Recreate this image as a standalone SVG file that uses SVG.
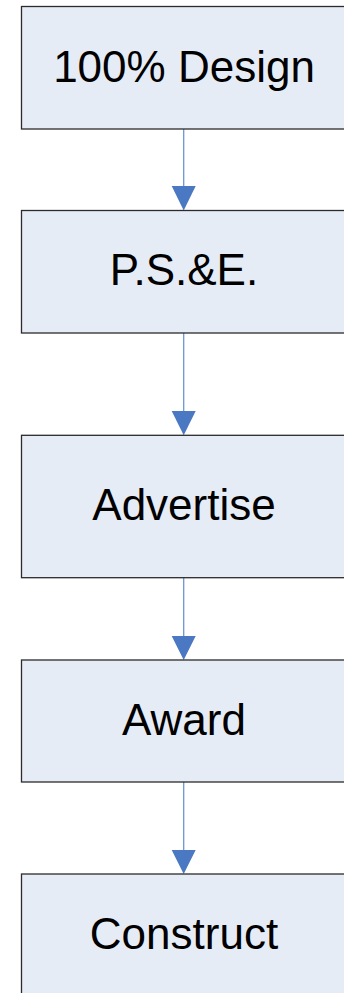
<svg xmlns="http://www.w3.org/2000/svg" width="344" height="993" viewBox="0 0 344 993">
<style>
.box{fill:#E6ECF6;stroke:#2b2b2b;stroke-width:1.3}
.lbl{font-family:"Liberation Sans",Arial,sans-serif;font-size:44px;fill:#000;text-anchor:middle}
.con{stroke:#6E95D3;stroke-width:1.3;fill:none}
.head{fill:#4A78C2}
</style>
<rect width="344" height="993" fill="#fff"/>
<g id="connectors">
<line class="con" x1="183.7" y1="129" x2="183.7" y2="188"/>
<polygon class="head" points="171.7,186 195.7,186 183.7,210.5"/>
<line class="con" x1="183.7" y1="333" x2="183.7" y2="413"/>
<polygon class="head" points="171.7,411 195.7,411 183.7,435.3"/>
<line class="con" x1="183.7" y1="577.7" x2="183.7" y2="638"/>
<polygon class="head" points="171.7,636 195.7,636 183.7,660"/>
<line class="con" x1="183.7" y1="782" x2="183.7" y2="852"/>
<polygon class="head" points="171.7,850 195.7,850 183.7,874"/>
</g>
<g id="n1"><rect class="box" x="21.5" y="6.5" width="325" height="122.5"/><text class="lbl" x="184" y="81.5">100% Design</text></g>
<g id="n2"><rect class="box" x="21.5" y="210.5" width="325" height="122.5"/><text class="lbl" x="184" y="285">P.S.&amp;E.</text></g>
<g id="n3"><rect class="box" x="21.5" y="435.3" width="325" height="142.4"/><text class="lbl" x="184" y="520">Advertise</text></g>
<g id="n4"><rect class="box" x="21.5" y="660" width="325" height="122"/><text class="lbl" x="184" y="735">Award</text></g>
<g id="n5"><rect class="box" x="21.5" y="874" width="325" height="130"/><text class="lbl" x="184" y="949">Construct</text></g>
</svg>
